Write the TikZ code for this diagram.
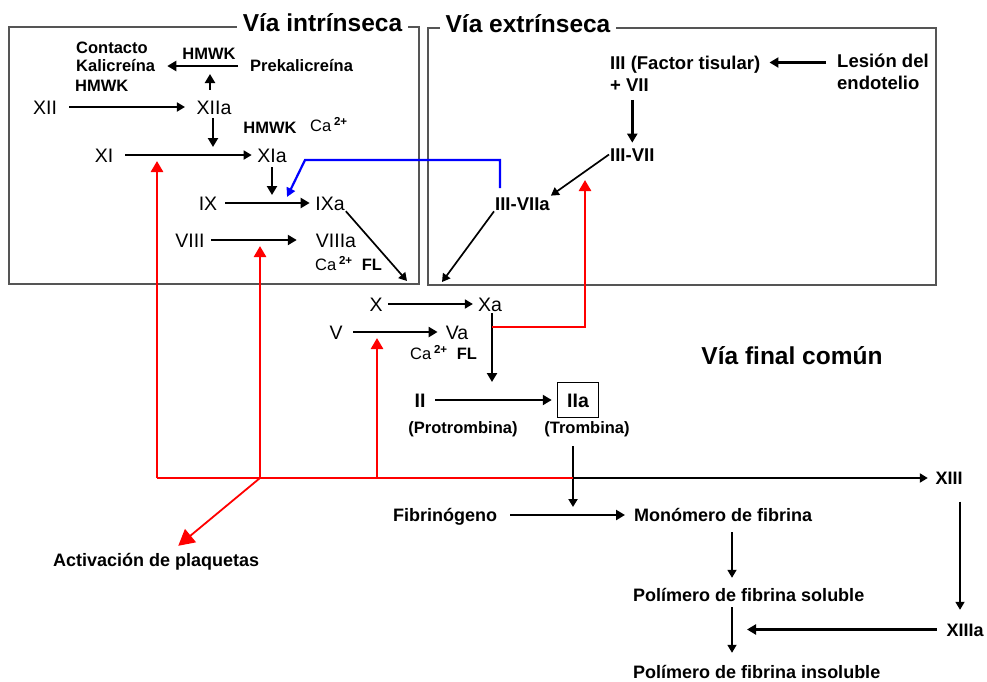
\documentclass[tikz,border=0pt]{standalone}
\usepackage{fontspec}
\setmainfont{Liberation Sans}
\usetikzlibrary{arrows.meta,calc}
\definecolor{boxC}{HTML}{555555}
\definecolor{actC}{HTML}{FF0000}
\definecolor{fbC}{HTML}{0000FF}
\tikzset{
  >={Triangle[length=9pt,width=10pt]},
  fac/.style={font=\fontsize{19.5}{22}\selectfont,inner sep=1pt,text height=14pt,text depth=0pt},
  facb/.style={fac,font=\fontsize{19.5}{22}\selectfont\bfseries},
  cof/.style={font=\fontsize{16.5}{19}\selectfont\bfseries,inner sep=1pt,text height=11.9pt,text depth=0pt},
  ext/.style={font=\fontsize{18.5}{21}\selectfont\bfseries,inner sep=1pt,text height=13.3pt,text depth=0pt},
  fib/.style={font=\fontsize{18}{21}\selectfont\bfseries,inner sep=1pt,text height=13pt,text depth=0pt},
  ttl/.style={font=\fontsize{24.5}{28}\selectfont\bfseries,fill=white,inner xsep=6pt,inner ysep=2pt,text height=17.5pt,text depth=0pt},
  thn/.style={line width=1.7pt,-{Triangle[length=8pt,width=9pt]}},
  thk/.style={line width=2.6pt,->},
  act/.style={actC,line width=2.6pt},
  acttip/.style={-{Triangle[length=11pt,width=12pt]}},
  fb/.style={fbC,line width=2.2pt,-{Triangle[length=9pt,width=9pt]}},
  pathbox/.style={draw=boxC,line width=1.5pt},
}
\newcommand{\caion}{Ca\,\textsuperscript{\bfseries 2+}}

\begin{document}
\begin{tikzpicture}[x=1pt,y=-1pt]
\useasboundingbox (0,0) rectangle (987,681);

% ---------- boxes and titles ----------
\draw[pathbox] (9,27) rectangle (419,284);
\node[ttl] (intr) at (322.5,23) {Vía intrínseca};
\draw[pathbox] (428,28) rectangle (936,285);
\node[ttl] (extr) at (528,24) {Vía extrínseca};
\node[font=\fontsize{24.5}{28}\selectfont\bfseries] (comun) at (792,356) {Vía final común};

% ================= INTRINSIC PATHWAY =================
\node[cof,anchor=west] (cont) at (75,47.5) {Contacto};
\node[cof,anchor=west] (kal) at (75,66) {Kalicreína};
\node[cof,anchor=west] (hmwkA) at (74,86) {HMWK};
\node[cof] (hmwkB) at (209,54) {HMWK};
\node[cof,anchor=west] (pre) at (249,66) {Prekalicreína};
\node[fac] (XII) at (45,107) {XII};
\node[fac] (XIIa) at (214,107) {XIIa};
\node[cof] (hmwkC) at (270,127.5) {HMWK};
\node[cof,font=\fontsize{16.5}{19}\selectfont,anchor=west] (caA) at (309,126) {\caion};
\node[fac] (XI) at (104,155) {XI};
\node[fac] (XIa) at (272,155) {XIa};
\node[fac] (IX) at (208,203) {IX};
\node[fac] (IXa) at (330,203) {IXa};
\node[fac] (VIII) at (190,240) {VIII};
\node[fac] (VIIIa) at (336,240) {VIIIa};
\node[cof,font=\fontsize{16.5}{19}\selectfont,anchor=west] (caB) at (314,265) {\caion\ \ \textbf{FL}};

\coordinate (c12) at (210,74);
\coordinate (c11) at (213,147);
\coordinate (c9) at (272,195);
\coordinate (xTip) at (407,281);

\draw[thk,shorten <=11pt,shorten >=11pt] (pre) -- (kal);
\draw[thk,shorten <=9pt] (XIIa.north -| c12) -- (c12);
\draw[thn,shorten <=11pt,shorten >=10.5pt] (XII) -- (XIIa);
\draw[thk,shorten <=3pt] (XIIa.south -| c11) -- (c11);
\draw[thn,shorten <=11pt,shorten >=4.5pt] (XI) -- (XIa);
\draw[thk,shorten <=4pt] (XIa.south) -- (c9);
\draw[thk,shorten <=7pt,shorten >=4.5pt] (IX) -- (IXa);
\draw[thk,shorten <=5.5pt,shorten >=18pt] (VIII) -- (VIIIa);
\draw[thn] (IXa.south east) -- (xTip);

% ================= EXTRINSIC PATHWAY =================
\node[ext,anchor=west] (ft) at (609,62.5) {III (Factor tisular)};
\node[ext,anchor=west] (plus) at (609,85) {+ VII};
\node[ext,anchor=west] (les) at (836,60.5) {Lesión del};
\node[ext,anchor=west] (endo) at (836,83) {endotelio};
\node[ext,anchor=west] (IIIVII) at (609,154.5) {III-VII};
\node[ext,anchor=west] (IIIVIIa) at (494,203.5) {III-VIIa};

\coordinate (xTipB) at (442,282);

\draw[thk,shorten <=10pt,shorten >=8pt] (les.west |- ft) -- (ft);
\draw[thk,shorten <=7pt,shorten >=4pt] (plus.south -| IIIVII.north) -- (IIIVII.north);
\draw[thn] (IIIVII.west) -- (IIIVIIa.north east);
\draw[thn] (IIIVIIa.south west) -- (xTipB);

% blue feedback III-VIIa -> IX
\coordinate (bs) at (500,188);
\coordinate (bk) at (305,160);
\coordinate (blTip) at (287,197);
\draw[fb] (bs) |- (bk) -- (blTip);

% ================= COMMON PATHWAY =================
\node[fac] (X) at (376,304) {X};
\node[fac] (Xa) at (490,304) {Xa};
\node[fac] (V) at (336,332) {V};
\node[fac] (Va) at (457,332) {Va};
\node[cof,font=\fontsize{16.5}{19}\selectfont,anchor=west] (caC) at (409,354) {\caion\ \ \textbf{FL}};
\node[facb] (II) at (420,400) {II};
\node[facb,draw,line width=1.5pt,minimum width=41pt,minimum height=35pt] (IIa) at (578,400) {IIa};
\node[cof] (prot) at (463,428) {(Protrombina)};
\node[cof] (thr) at (587,428) {(Trombina)};

\coordinate (xaTip) at (492,382);
\coordinate (thrTip) at (573,507);
\coordinate (jn) at (573,478);

\draw[thn,shorten <=4.5pt,shorten >=4pt] (X) -- (Xa);
\draw[thk,shorten <=9.5pt,shorten >=7pt] (V) -- (Va);
\draw[thk,shorten <=1pt] (Xa.south -| xaTip) -- (xaTip);
\draw[thk,shorten <=8.6pt,shorten >=5pt] (II) -- (IIa);
\draw[thn,line width=2pt,shorten <=11pt] (thr.south -| thrTip) -- (thrTip);

% ---------- fibrin ----------
\node[fib,anchor=west] (fibg) at (392,515) {Fibrinógeno};
\node[fib,anchor=west] (mon) at (633,515) {Monómero de fibrina};
\node[fib,anchor=west] (sol) at (632,594.5) {Polímero de fibrina soluble};
\node[fib,anchor=west] (ins) at (632,672) {Polímero de fibrina insoluble};
\node[fib] (XIII) at (949,478) {XIII};
\node[fib] (XIIIa) at (965,629.5) {XIIIa};
\node[fib,anchor=west] (act) at (52,560) {Activación de plaquetas};

\coordinate (fx) at (732,0);
\coordinate (xq) at (960,0);

\draw[thk,shorten <=12pt,shorten >=8pt] (fibg) -- (mon);
\draw[thn,line width=2.2pt,shorten >=6.5pt] (jn) -- (XIII);
\draw[thn,shorten <=9.5pt,shorten >=9pt] (mon.south -| fx) -- (sol.north -| fx);
\draw[thn,shorten <=5pt,shorten >=11.5pt] (sol.south -| fx) -- (ins.north -| fx);
\draw[thn,shorten <=16pt,shorten >=12pt] (XIII.south -| xq) -- (XIIIa.north -| xq);
\draw[thk,shorten <=8.5pt,shorten >=15pt] (XIIIa) -- (XIIIa -| fx);

% ---------- thrombin feedback (red) ----------
\coordinate (rA) at (157,478);
\coordinate (rB) at (260,478);
\coordinate (rC) at (377,478);
\coordinate (xaR) at (492,327);
\coordinate (rUp) at (585,180);
\draw[act] (jn) -- (rA);
\draw[act,acttip] (rA) -- (157,161);
\draw[act,acttip] (rB) -- (260,246);
\draw[act,acttip] (rC) -- (377,338);
\draw[act,acttip] (xaR) -| (rUp);
\draw[actC,line width=1.8pt,-{Triangle[length=16pt,width=17pt]}] (rB) -- ([xshift=22pt,yshift=6.5pt]act.north);

\end{tikzpicture}
\end{document}
